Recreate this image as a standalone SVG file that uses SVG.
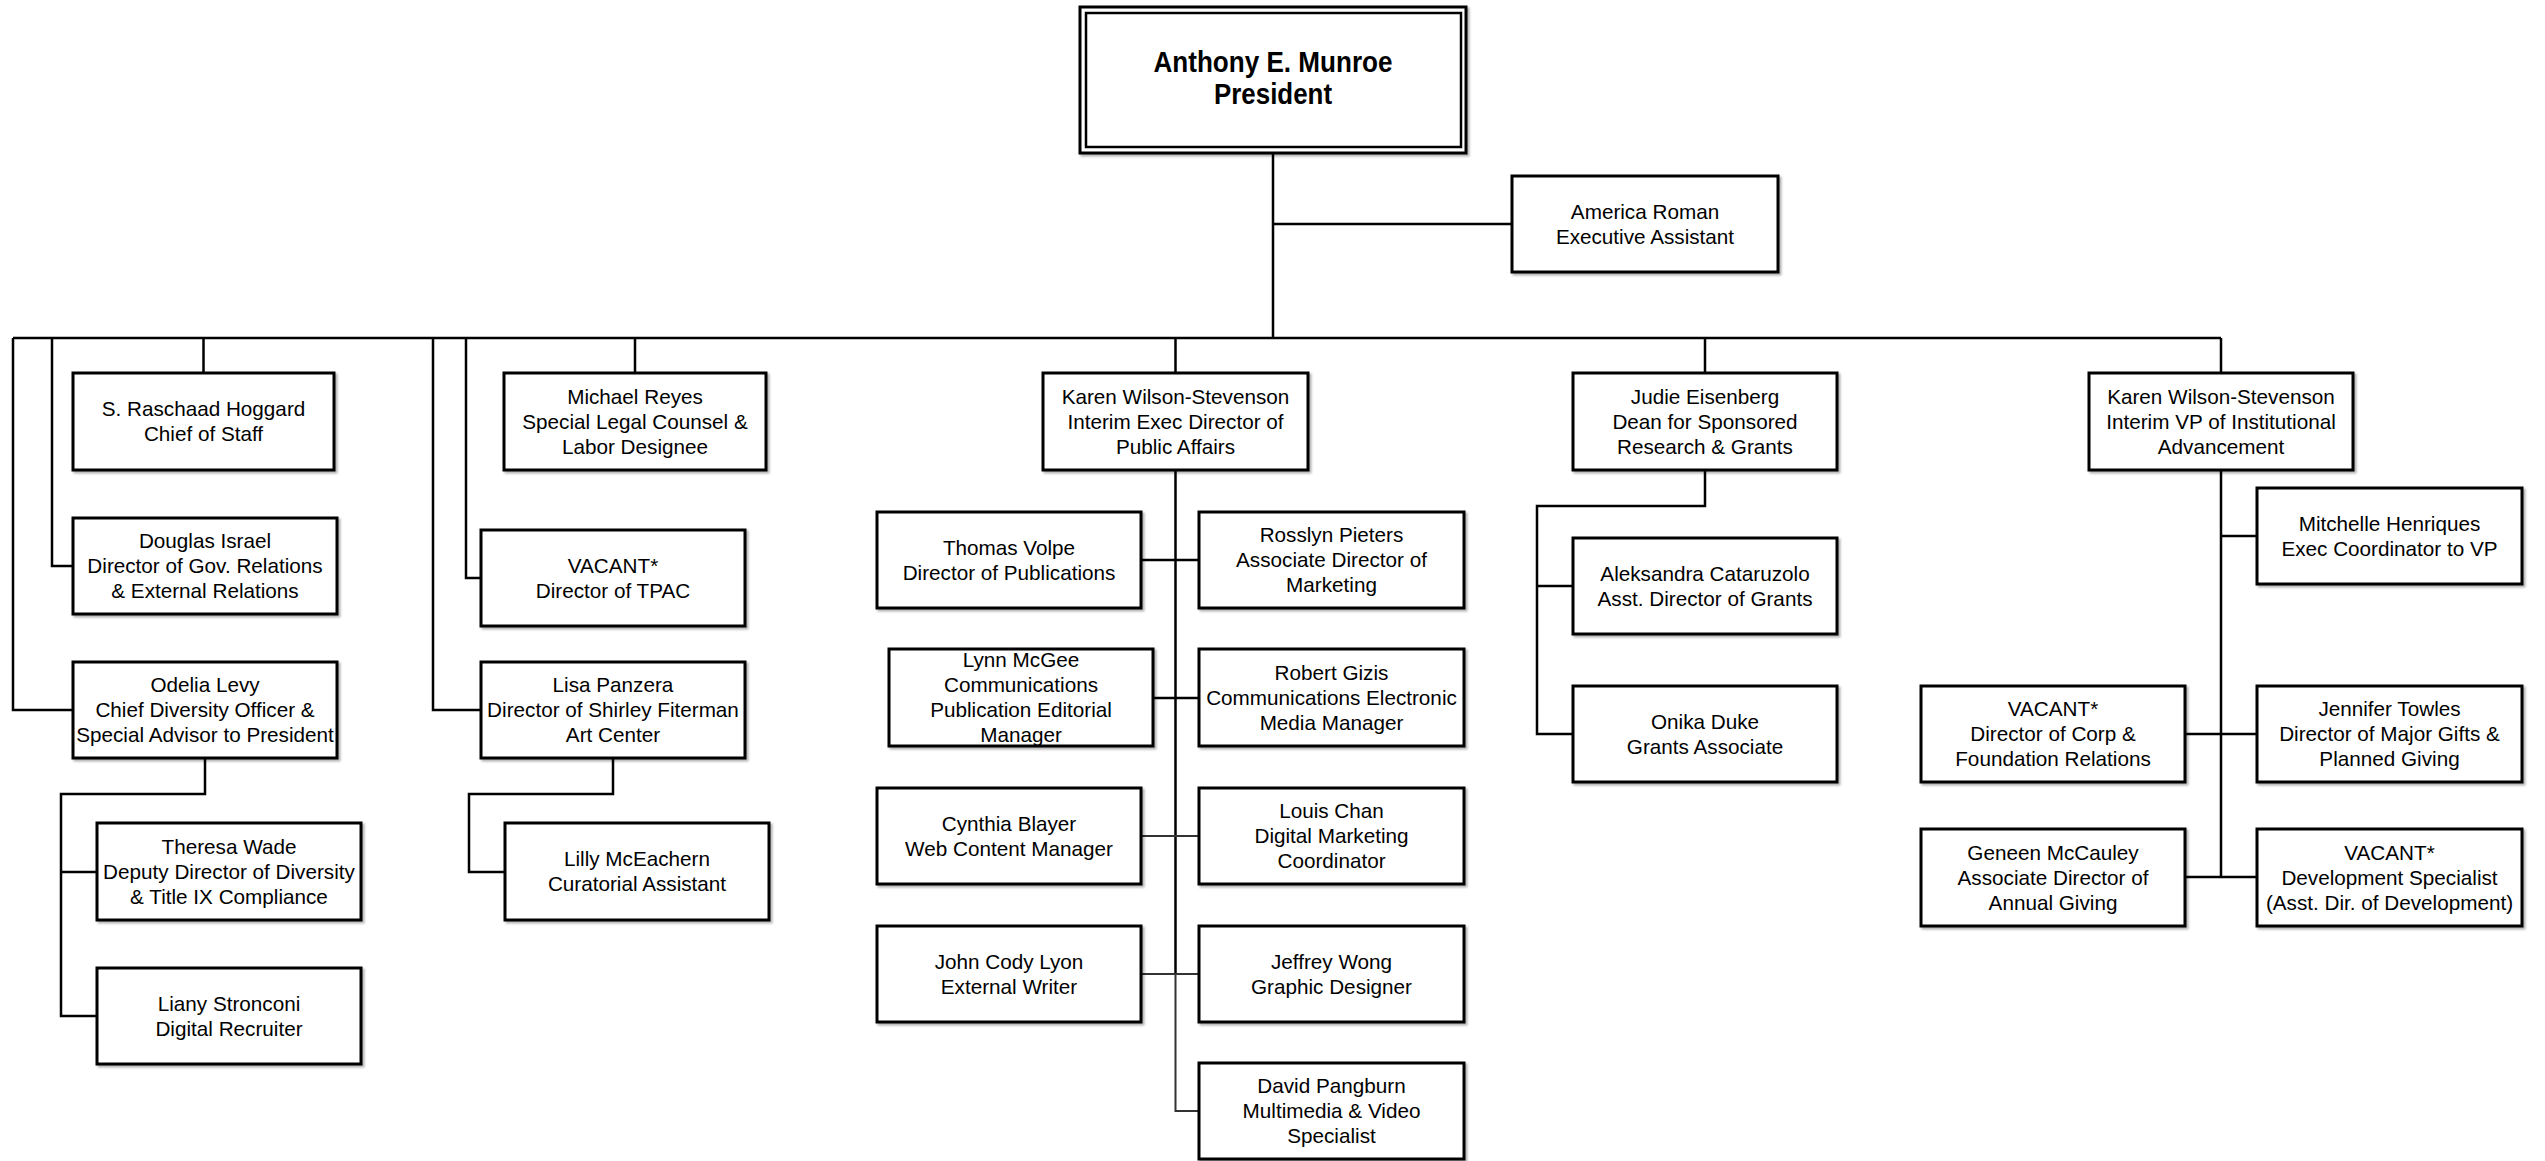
<svg xmlns="http://www.w3.org/2000/svg" width="2545" height="1161" viewBox="0 0 2545 1161">
<defs>
<filter id="sh" x="-5%" y="-5%" width="115%" height="120%">
<feDropShadow dx="2" dy="2" stdDeviation="1.2" flood-color="#000" flood-opacity="0.3"/>
</filter>
</defs>
<style>
.b{fill:#fff;stroke:#000;stroke-width:3;filter:url(#sh)}
.t{font-family:"Liberation Sans",Arial,sans-serif;font-size:20.7px;text-anchor:middle;fill:#000}
.tb{font-family:"Liberation Sans",Arial,sans-serif;font-size:29.5px;font-weight:bold;text-anchor:middle;fill:#000}
.c{fill:none;stroke:#000;stroke-width:2.5}
.c2{fill:none;stroke:#333;stroke-width:2}
</style>
<rect width="2545" height="1161" fill="#fff"/>
<g id="connectors">
<path class="c" d="M1273 153V338M1273 224H1512M13 338H2221"/>
<path class="c" d="M13 338V710H73M52 338V566H73M203.5 338V373M433 338V710H481M466 338V578H481M635 338V373M1175.5 338V373M1705 338V373M2221 338V373"/>
<path class="c" d="M205 758V794H61V1016H97M61 872H97"/>
<path class="c" d="M613 758V794H469V872H505"/>
<path class="c" d="M1175.5 470V974M1141 560H1199M1153 698H1199"/>
<path class="c2" d="M1141 836H1199M1141 974H1199M1175.5 974V1111H1199"/>
<path class="c" d="M1705 470V506H1537V734H1573M1537 586H1573"/>
<path class="c" d="M2221 470V877M2221 536H2257M2185 734H2257M2185 877H2257"/>
</g>
<g id="president">
<rect x="1080" y="7" width="386" height="146" fill="#fff" stroke="#000" stroke-width="3" filter="url(#sh)"/>
<rect x="1086" y="13" width="375" height="134" fill="none" stroke="#000" stroke-width="2.5"/>
<text class="tb"><tspan x="1273" y="72" textLength="239" lengthAdjust="spacingAndGlyphs">Anthony E. Munroe</tspan><tspan x="1273" y="104" textLength="118" lengthAdjust="spacingAndGlyphs">President</tspan></text>
</g>
<g id="roman">
<rect class="b" x="1512" y="176" width="266" height="96"/>
<text class="t"><tspan x="1645" y="218.8">America Roman</tspan><tspan x="1645" y="243.8">Executive Assistant</tspan></text>
</g>
<g id="hoggard">
<rect class="b" x="73" y="373" width="261" height="97"/>
<text class="t"><tspan x="203.5" y="416.3">S. Raschaad Hoggard</tspan><tspan x="203.5" y="441.3">Chief of Staff</tspan></text>
</g>
<g id="israel">
<rect class="b" x="73" y="518" width="264" height="96"/>
<text class="t"><tspan x="205" y="548.3">Douglas Israel</tspan><tspan x="205" y="573.3">Director of Gov. Relations</tspan><tspan x="205" y="598.3">&amp; External Relations</tspan></text>
</g>
<g id="levy">
<rect class="b" x="73" y="662" width="264" height="96"/>
<text class="t"><tspan x="205" y="692.3">Odelia Levy</tspan><tspan x="205" y="717.3">Chief Diversity Officer &amp;</tspan><tspan x="205" y="742.3">Special Advisor to President</tspan></text>
</g>
<g id="wade">
<rect class="b" x="97" y="823" width="264" height="97"/>
<text class="t"><tspan x="229" y="853.8">Theresa Wade</tspan><tspan x="229" y="878.8">Deputy Director of Diversity</tspan><tspan x="229" y="903.8">&amp; Title IX Compliance</tspan></text>
</g>
<g id="stronconi">
<rect class="b" x="97" y="968" width="264" height="96"/>
<text class="t"><tspan x="229" y="1010.8">Liany Stronconi</tspan><tspan x="229" y="1035.8">Digital Recruiter</tspan></text>
</g>
<g id="reyes">
<rect class="b" x="504" y="373" width="262" height="97"/>
<text class="t"><tspan x="635" y="403.8">Michael Reyes</tspan><tspan x="635" y="428.8">Special Legal Counsel &amp;</tspan><tspan x="635" y="453.8">Labor Designee</tspan></text>
</g>
<g id="tpac">
<rect class="b" x="481" y="530" width="264" height="96"/>
<text class="t"><tspan x="613" y="572.8">VACANT*</tspan><tspan x="613" y="597.8">Director of TPAC</tspan></text>
</g>
<g id="panzera">
<rect class="b" x="481" y="662" width="264" height="96"/>
<text class="t"><tspan x="613" y="692.3">Lisa Panzera</tspan><tspan x="613" y="717.3">Director of Shirley Fiterman</tspan><tspan x="613" y="742.3">Art Center</tspan></text>
</g>
<g id="mceachern">
<rect class="b" x="505" y="823" width="264" height="97"/>
<text class="t"><tspan x="637" y="866.3">Lilly McEachern</tspan><tspan x="637" y="891.3">Curatorial Assistant</tspan></text>
</g>
<g id="wilson-pa">
<rect class="b" x="1043" y="373" width="265" height="97"/>
<text class="t"><tspan x="1175.5" y="403.8">Karen Wilson-Stevenson</tspan><tspan x="1175.5" y="428.8">Interim Exec Director of</tspan><tspan x="1175.5" y="453.8">Public Affairs</tspan></text>
</g>
<g id="volpe">
<rect class="b" x="877" y="512" width="264" height="96"/>
<text class="t"><tspan x="1009" y="554.8">Thomas Volpe</tspan><tspan x="1009" y="579.8">Director of Publications</tspan></text>
</g>
<g id="pieters">
<rect class="b" x="1199" y="512" width="265" height="96"/>
<text class="t"><tspan x="1331.5" y="542.3">Rosslyn Pieters</tspan><tspan x="1331.5" y="567.3">Associate Director of</tspan><tspan x="1331.5" y="592.3">Marketing</tspan></text>
</g>
<g id="mcgee">
<rect class="b" x="889" y="649" width="264" height="97"/>
<text class="t"><tspan x="1021" y="667.3">Lynn McGee</tspan><tspan x="1021" y="692.3">Communications</tspan><tspan x="1021" y="717.3">Publication Editorial</tspan><tspan x="1021" y="742.3">Manager</tspan></text>
</g>
<g id="gizis">
<rect class="b" x="1199" y="649" width="265" height="97"/>
<text class="t"><tspan x="1331.5" y="679.8">Robert Gizis</tspan><tspan x="1331.5" y="704.8">Communications Electronic</tspan><tspan x="1331.5" y="729.8">Media Manager</tspan></text>
</g>
<g id="blayer">
<rect class="b" x="877" y="788" width="264" height="96"/>
<text class="t"><tspan x="1009" y="830.8">Cynthia Blayer</tspan><tspan x="1009" y="855.8">Web Content Manager</tspan></text>
</g>
<g id="chan">
<rect class="b" x="1199" y="788" width="265" height="96"/>
<text class="t"><tspan x="1331.5" y="818.3">Louis Chan</tspan><tspan x="1331.5" y="843.3">Digital Marketing</tspan><tspan x="1331.5" y="868.3">Coordinator</tspan></text>
</g>
<g id="lyon">
<rect class="b" x="877" y="926" width="264" height="96"/>
<text class="t"><tspan x="1009" y="968.8">John Cody Lyon</tspan><tspan x="1009" y="993.8">External Writer</tspan></text>
</g>
<g id="wong">
<rect class="b" x="1199" y="926" width="265" height="96"/>
<text class="t"><tspan x="1331.5" y="968.8">Jeffrey Wong</tspan><tspan x="1331.5" y="993.8">Graphic Designer</tspan></text>
</g>
<g id="pangburn">
<rect class="b" x="1199" y="1063" width="265" height="96"/>
<text class="t"><tspan x="1331.5" y="1093.3">David Pangburn</tspan><tspan x="1331.5" y="1118.3">Multimedia &amp; Video</tspan><tspan x="1331.5" y="1143.3">Specialist</tspan></text>
</g>
<g id="eisenberg">
<rect class="b" x="1573" y="373" width="264" height="97"/>
<text class="t"><tspan x="1705" y="403.8">Judie Eisenberg</tspan><tspan x="1705" y="428.8">Dean for Sponsored</tspan><tspan x="1705" y="453.8">Research &amp; Grants</tspan></text>
</g>
<g id="cataruzolo">
<rect class="b" x="1573" y="538" width="264" height="96"/>
<text class="t"><tspan x="1705" y="580.8">Aleksandra Cataruzolo</tspan><tspan x="1705" y="605.8">Asst. Director of Grants</tspan></text>
</g>
<g id="duke">
<rect class="b" x="1573" y="686" width="264" height="96"/>
<text class="t"><tspan x="1705" y="728.8">Onika Duke</tspan><tspan x="1705" y="753.8">Grants Associate</tspan></text>
</g>
<g id="wilson-vp">
<rect class="b" x="2089" y="373" width="264" height="97"/>
<text class="t"><tspan x="2221" y="403.8">Karen Wilson-Stevenson</tspan><tspan x="2221" y="428.8">Interim VP of Institutional</tspan><tspan x="2221" y="453.8">Advancement</tspan></text>
</g>
<g id="henriques">
<rect class="b" x="2257" y="488" width="265" height="96"/>
<text class="t"><tspan x="2389.5" y="530.8">Mitchelle Henriques</tspan><tspan x="2389.5" y="555.8">Exec Coordinator to VP</tspan></text>
</g>
<g id="corp">
<rect class="b" x="1921" y="686" width="264" height="96"/>
<text class="t"><tspan x="2053" y="716.3">VACANT*</tspan><tspan x="2053" y="741.3">Director of Corp &amp;</tspan><tspan x="2053" y="766.3">Foundation Relations</tspan></text>
</g>
<g id="towles">
<rect class="b" x="2257" y="686" width="265" height="96"/>
<text class="t"><tspan x="2389.5" y="716.3">Jennifer Towles</tspan><tspan x="2389.5" y="741.3">Director of Major Gifts &amp;</tspan><tspan x="2389.5" y="766.3">Planned Giving</tspan></text>
</g>
<g id="mccauley">
<rect class="b" x="1921" y="829" width="264" height="97"/>
<text class="t"><tspan x="2053" y="859.8">Geneen McCauley</tspan><tspan x="2053" y="884.8">Associate Director of</tspan><tspan x="2053" y="909.8">Annual Giving</tspan></text>
</g>
<g id="development">
<rect class="b" x="2257" y="829" width="265" height="97"/>
<text class="t"><tspan x="2389.5" y="859.8">VACANT*</tspan><tspan x="2389.5" y="884.8">Development Specialist</tspan><tspan x="2389.5" y="909.8">(Asst. Dir. of Development)</tspan></text>
</g>
</svg>
